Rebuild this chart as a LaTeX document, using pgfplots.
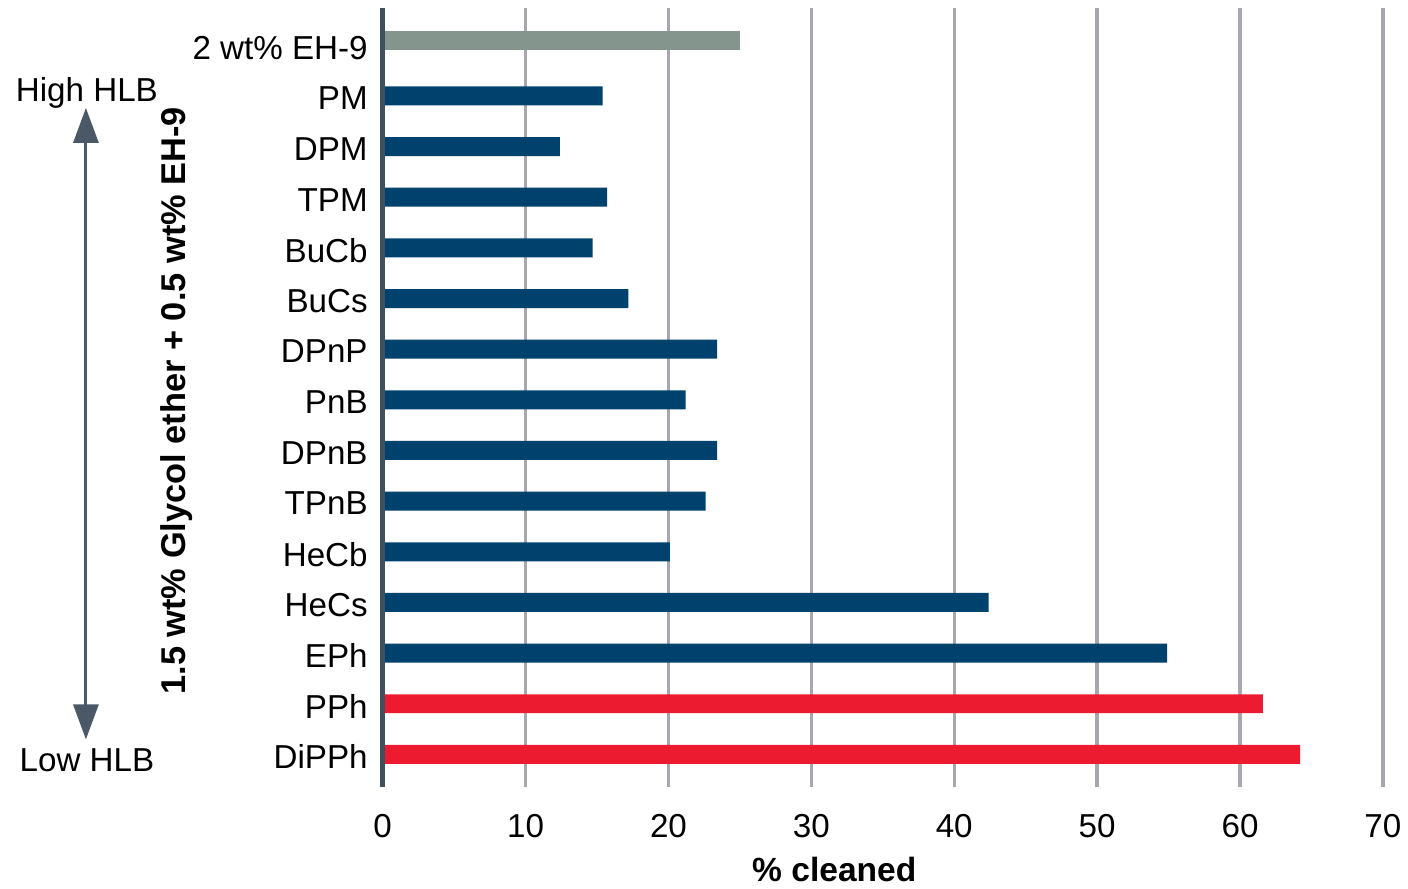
\documentclass[border=0pt]{standalone}
\usepackage{pgfplots}
\pgfplotsset{compat=1.18}
\usepackage{fontspec}
\setmainfont{Liberation Sans}
\usetikzlibrary{arrows.meta}

\definecolor{barblue}{HTML}{00426E}
\definecolor{barred}{HTML}{ED1B2F}
\definecolor{ehgray}{HTML}{84958D}
\definecolor{spine}{HTML}{3E4F5E}
\definecolor{gridgray}{HTML}{A7A7B0}
\definecolor{arrowc}{HTML}{4A5868}

\newcommand{\lbl}{\fontsize{16.6}{19}\selectfont}

\begin{document}
\begin{tikzpicture}
\begin{axis}[
    scale only axis,
    width=500.5pt, height=390pt,
    xbar, bar width=9.5pt, bar shift=0pt,
    xmin=0, xmax=70,
    ymin=-0.651, ymax=14.736,
    xtick={0,10,...,70},
    ytick={0,...,14},
    yticklabels={DiPPh,PPh,EPh,HeCs,HeCb,TPnB,DPnB,PnB,DPnP,BuCs,BuCb,TPM,DPM,PM,2 wt\% EH-9},
    axis line style={draw=none},
    tick style={draw=none},
    major tick length=0pt,
    xmajorgrids,
    major grid style={line width=1.7pt, color=gridgray},
    tick label style={font=\lbl},
    /pgf/number format/assume math mode=true,
    yticklabel style={xshift=-4pt, yshift=-1.2pt},
    xticklabel style={yshift=-10pt},
    clip=false,
]
    % control
    \addplot[fill=ehgray, draw=none] coordinates {(25.0,14.1)};
    % glycol ethers
    \addplot[fill=barblue, draw=none] coordinates {
        (15.4,13) (12.4,12) (15.7,11) (14.7,10) (17.2,9)
        (23.4,8) (21.2,7) (23.4,6) (22.6,5) (20.1,4)
        (42.4,3) (54.9,2) };
    % best performers
    \addplot[fill=barred, draw=none] coordinates {(61.6,1) (64.2,0)};

    \draw[spine, line width=2.3pt] (rel axis cs:0,0) -- (rel axis cs:0,1);

    \node[font=\fontsize{16.8}{19}\selectfont\bfseries, anchor=center]
        at ([xshift=226pt, yshift=-41pt]rel axis cs:0,0) {\% cleaned};
    \node[font=\fontsize{17.2}{19}\selectfont\bfseries, rotate=90, anchor=center]
        at ([xshift=-103pt]rel axis cs:0,0.496) {1.5 wt\% Glycol ether + 0.5 wt\% EH-9};

    % HLB arrow
    \draw[arrowc, line width=1.5pt, {Triangle[width=12.5pt,length=17.5pt]}-{Triangle[width=12.5pt,length=17.5pt]}]
        ([xshift=-148.5pt, yshift=24pt]rel axis cs:0,0) -- ([xshift=-148.5pt, yshift=340pt]rel axis cs:0,0);
    \node[font=\lbl, anchor=center] at ([xshift=-148pt, yshift=347.5pt]rel axis cs:0,0) {High HLB};
    \node[font=\lbl, anchor=center] at ([xshift=-148pt, yshift=13.5pt]rel axis cs:0,0) {Low HLB};

    % page extent
    \path ([xshift=-191.5pt, yshift=-48.5pt]rel axis cs:0,0) ([xshift=12pt, yshift=4pt]rel axis cs:1,1);
\end{axis}
\end{tikzpicture}
\end{document}
